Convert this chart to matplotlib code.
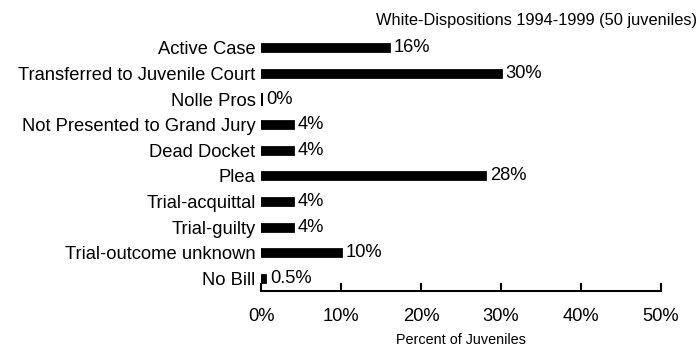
import matplotlib.pyplot as plt
from matplotlib.ticker import PercentFormatter

plt.rcParams['font.family'] = ['Liberation Sans', 'DejaVu Sans']

categories = ['Active Case', 'Transferred to Juvenile Court', 'Nolle Pros',
              'Not Presented to Grand Jury', 'Dead Docket', 'Plea',
              'Trial-acquittal', 'Trial-guilty', 'Trial-outcome unknown', 'No Bill']
percent = [16, 30, 0, 4, 4, 28, 4, 4, 10, 0.5]
labels = ['16%', '30%', '0%', '4%', '4%', '28%', '4%', '4%', '10%', '0.5%']

fig = plt.figure(figsize=(7, 3.47), dpi=100)
ax = fig.add_axes([0.373, 0.161, 0.571, 0.738])

pos = list(range(len(categories)))
ax.barh(pos, percent, height=0.28, color='black', edgecolor='black', linewidth=2)
# zero-length bar still gets a small stub from its edge
ax.plot([0, 0], [2 - 0.18, 2 + 0.18], color='black', lw=2.2)
for p, v, t in zip(pos, percent, labels):
    ax.annotate(t, (v, p), xytext=(3.5, 0), textcoords='offset points',
                va='center', ha='left', fontsize=13.2)

ax.set_ylim(len(categories) - 0.5, -0.5)
ax.set_xlim(0, 50)
ax.set_xticks([0, 10, 20, 30, 40, 50])
ax.xaxis.set_major_formatter(PercentFormatter(decimals=0))
ax.set_yticks(pos)
ax.set_yticklabels(categories)

for s in ['top', 'right', 'left']:
    ax.spines[s].set_visible(False)
ax.spines['bottom'].set_linewidth(1.5)
ax.tick_params(axis='x', direction='in', length=6, width=1.5, pad=12, labelsize=13.2)
ax.tick_params(axis='y', length=0, pad=4, labelsize=13.2)

ax.set_xlabel('Percent of Juveniles', fontsize=10.4, labelpad=6)
fig.text(0.996, 0.942, 'White-Dispositions 1994-1999 (50 juveniles)',
         ha='right', va='center', fontsize=11.8)

fig.savefig('out.png', dpi=100)
